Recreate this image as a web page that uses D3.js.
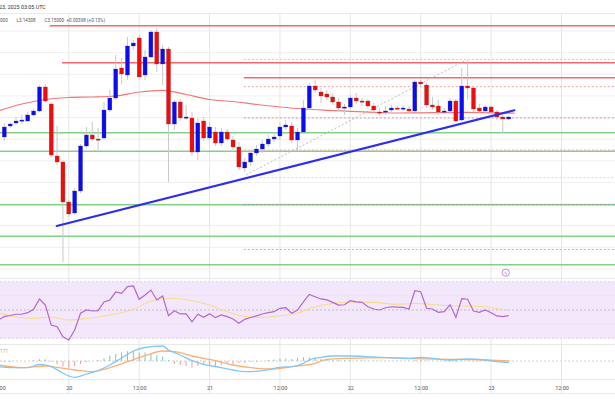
<!DOCTYPE html>
<html><head><meta charset="utf-8">
<script src="https://cdn.jsdelivr.net/npm/d3@7"></script>
<style>
body{margin:0;background:#fff;}
svg{display:block;font-family:Roboto,"DejaVu Sans",sans-serif;}
</style>
</head><body>
<svg id="chart" width="615" height="410"></svg>
<script>
// ---------- DATA ----------
const firstCandle = Date.UTC(2025, 1, 19, 13); // hourly candles
const opens = [3.1000,3.1275,3.1350,3.1413,3.1400,3.1550,3.1650,3.2250,3.1825,3.0525,
3.0375,2.9375,2.9100,2.9650,3.0775,3.1050,3.0950,3.0975,3.1675,3.1975,
3.2725,3.2550,3.3275,3.3475,3.2550,3.3000,3.3625,3.2825,3.3200,3.1325,
3.1875,3.1475,3.1475,3.0625,3.1400,3.0975,3.1125,3.0850,3.1125,3.0925,
3.0750,3.0225,3.0375,3.0600,3.0700,3.0825,3.0950,3.1025,3.1250,3.1275,
3.0925,3.1125,3.1725,3.2275,3.2125,3.2075,3.2000,3.1875,3.1725,3.1750,
3.1975,3.1900,3.1900,3.1775,3.1625,3.1625,3.1675,3.1725,3.1713,3.1700,
3.1650,3.2375,3.2300,3.1800,3.1775,3.1625,3.1650,3.1900,3.1425,3.2275,
3.2225,3.1725,3.1650,3.1750,3.1625,3.1500,3.1450];
const highs = [3.1350,3.1375,3.1500,3.1550,3.1625,3.1700,3.2300,3.2325,3.1875,3.1275,
3.0425,2.9425,2.9725,3.0825,3.1250,3.1375,3.1225,3.1875,3.2175,3.3050,
3.2975,3.3500,3.3425,3.3550,3.3175,3.3675,3.3725,3.3300,3.3250,3.1925,
3.1950,3.1800,3.1625,3.1475,3.1500,3.1375,3.1250,3.1225,3.1200,3.1025,
3.0875,3.0475,3.0675,3.0800,3.0925,3.1050,3.1125,3.1350,3.1425,3.1375,
3.1225,3.1925,3.2350,3.2425,3.2225,3.2175,3.2100,3.1975,3.1825,3.2050,
3.2100,3.1975,3.1950,3.1850,3.1725,3.1775,3.1800,3.1775,3.1800,3.1775,
3.2425,3.2425,3.2350,3.2000,3.1925,3.1725,3.1975,3.1950,3.2725,3.2925,
3.2275,3.1825,3.1800,3.1800,3.1675,3.1550,3.1525];
const lows = [3.0900,3.1225,3.1300,3.1325,3.1375,3.1525,3.1625,3.1875,3.0500,3.0300,
2.7875,2.9000,2.9050,2.9600,3.0725,3.0900,3.0675,3.0925,3.1625,3.1925,
3.2325,3.2425,3.3175,3.2450,3.2425,3.2975,3.2625,3.2300,2.9875,3.1175,
3.1400,3.1425,3.0525,3.0425,3.0900,3.0925,3.0775,3.0775,3.0900,3.0675,
3.0175,3.0125,3.0275,3.0525,3.0600,3.0750,3.0875,3.0925,3.1175,3.0850,
3.0650,3.1075,3.1675,3.2100,3.1850,3.1925,3.1800,3.1650,3.1550,3.1700,
3.1825,3.1775,3.1700,3.1600,3.1525,3.1550,3.1625,3.1675,3.1650,3.1575,
3.1625,3.2275,3.1725,3.1675,3.1550,3.1575,3.1575,3.1375,3.1400,3.1925,
3.1625,3.1600,3.1600,3.1575,3.1425,3.1100,3.1425];
const closes = [3.1250,3.1325,3.1400,3.1425,3.1550,3.1650,3.2250,3.1900,3.0550,3.0375,
2.9375,2.9075,2.9650,3.0775,3.1050,3.0950,3.0938,3.1675,3.1975,3.2700,
3.2575,3.3275,3.3350,3.2500,3.3000,3.3625,3.2825,3.3200,3.1325,3.1875,
3.1475,3.1500,3.0625,3.1350,3.0975,3.1250,3.0850,3.1125,3.0950,3.0750,
3.0250,3.0375,3.0600,3.0700,3.0825,3.0950,3.1000,3.1250,3.1300,3.0925,
3.1125,3.1725,3.2275,3.2175,3.2025,3.2000,3.1875,3.1725,3.1750,3.1975,
3.1900,3.1875,3.1775,3.1675,3.1600,3.1650,3.1725,3.1713,3.1725,3.1650,
3.2375,3.2325,3.1800,3.1750,3.1625,3.1650,3.1900,3.1400,3.2275,3.2225,
3.1700,3.1650,3.1750,3.1625,3.1500,3.1450,3.1500];

// moving average on price (sampled: hour offset from 19 Feb 12:00, value)
const maHours  = [0,4,8,12,16,20,24,28,32,36,40,44,48,52,56,60,64,68,72,76,80,84,88];
const maValues = [3.1650,3.1825,3.1938,3.1988,3.2000,3.2025,3.2125,3.2168,3.2063,3.1938,3.1888,3.1813,3.1750,3.1700,3.1668,3.1643,3.1618,3.1600,3.1605,3.1610,3.1615,3.1605,3.1595];

// horizontal levels
const gridLevels = [3.365,3.311,3.2568,3.2028,3.1488,3.0945,3.0405,2.9865,2.9325,2.8783,2.8243,2.7703];
const redLevels = [3.3783, 3.2858, 3.2483];
const redLevelStarts = ["2025-02-19T20:45Z","2025-02-19T22:50Z","2025-02-21T05:50Z"];
const greenLevels = [3.1108, 3.0643, 2.9308, 2.8518, 2.7808];
const dottedLevels = [3.2940, 3.2258, 3.1475, 3.0675, 2.9983, 2.9308, 2.8188];
const dottedLevelStarts = ["2025-02-21T05:50Z","2025-02-21T05:50Z","2025-02-21T05:50Z","2025-02-21T05:50Z","2025-02-21T08:30Z","2025-02-21T05:50Z","2025-02-21T05:50Z"];
const trendTimes = ["2025-02-19T21:56Z","2025-02-23T03:58Z"];
const trendPrices = [2.8775, 3.1668];
const diagTimes = ["2025-02-21T06:13Z","2025-02-22T19:43Z"];
const diagPrices = [3.0050, 3.2925];

// RSI per hour from 19 Feb 12:00
const rsi = [42.9,45.3,46.1,47.0,47.0,48.1,50.5,57.8,53.5,39.4,
38.2,31.1,28.8,35.9,47.7,50.0,49.3,49.5,55.7,57.1,
62.7,61.8,66.5,67.0,57.6,60.6,64.1,57.1,59.9,46.0,
49.5,47.2,47.2,41.7,47.0,44.8,47.4,44.6,46.5,45.3,
43.6,40.6,43.4,44.7,45.8,47.2,48.1,48.8,51.2,51.6,
47.7,50.0,55.7,61.0,59.4,57.8,57.1,55.4,53.5,53.7,
56.6,55.7,55.4,52.3,50.7,50.0,51.6,52.3,52.1,51.9,
50.7,63.6,62.9,51.2,50.7,48.4,48.8,53.7,44.8,58.0,
57.6,49.3,48.4,50.0,48.1,45.8,45.3,46.0];
const rsiMaHours  = [0,3,6,9,12,15,19,23,26,29,32,36,39,42,45,48,51,54,57,60,64,68,71,75,79,83,85,87];
const rsiMaValues = [47.9,45.1,44.1,45.1,42.9,44.0,46.5,50.5,56.4,58.3,57.4,53.5,48.8,45.4,44.8,45.9,47.9,52.1,54.7,55.7,55.4,54.0,54.7,53.5,52.8,52.3,51.1,50.0];

// MACD (hour offsets from 19 Feb 12:00)
const macdHours  = [0,2,5,7,9,11,12,13,15,17,19,21,23,25,28,29,31,33,35,37,40,42,45,48,50,52,53,55,57,60,63,66,70,72,74,77,80,83,85,87];
const macdValues = [-0.0057,-0.0067,-0.0067,-0.0033,-0.0057,-0.012,-0.015,-0.0163,-0.013,-0.0095,-0.004,0.003,0.010,0.0135,0.015,0.011,0.006,0.0003,-0.0033,-0.0055,-0.009,-0.0107,-0.0097,-0.0063,-0.0057,-0.0023,0.001,0.0037,0.005,0.005,0.0043,0.0033,0.0027,0.0037,0.0027,0.001,0.002,0.001,-0.0007,-0.0017];
const signalHours  = [0,4,8,10,13,16,18,22,25,28,30,33,37,40,43,47,50,54,56,60,66,71,77,83,87];
const signalValues = [-0.004,-0.0067,-0.005,-0.0063,-0.009,-0.0107,-0.0083,-0.0007,0.0053,0.010,0.0093,0.005,0.0003,-0.004,-0.0067,-0.008,-0.0057,-0.0023,0.0017,0.0027,0.0033,0.0023,0.0017,0.001,0.0];
const histogram = [0,-0.001,-0.001,0,0,0,0.001,0.0017,0.0017,-0.001,
-0.0033,-0.0057,-0.0067,-0.005,-0.003,-0.001,0,0.001,0.0027,0.0053,
0.007,0.0087,0.0097,0.010,0.0083,0.0085,0.0077,0.0057,0.0043,0.001,
-0.003,-0.004,-0.005,-0.0067,-0.005,-0.004,-0.005,-0.0063,-0.004,-0.003,
-0.003,-0.002,-0.002,-0.001,-0.001,0,0.001,0.0015,0.0023,0.0023,
0.002,0.0033,0.0037,0.0037,0.0037,0.002,0.0015,0.001,0.001,0.0008,
0.0008,0.0005,0.0005,0.0003,0.0003,0.0002,0.0002,0.0002,0.0002,0.0001,
0.0005,0.001,0.0008,0.0005,0.0002,-0.0003,-0.0005,-0.0005,-0.001,0.0005,
0.0005,-0.0003,-0.0003,-0.0003,-0.0005,-0.0008,-0.001,-0.0012];

const axisTicks = ["2025-02-19T12:00Z","2025-02-20T00:00Z","2025-02-20T12:00Z","2025-02-21T00:00Z","2025-02-21T12:00Z","2025-02-22T00:00Z","2025-02-22T12:00Z","2025-02-23T00:00Z","2025-02-23T12:00Z"];
const headerLine1 = "23, 2025 03:05 UTC";
const headerLine2 = ["000", "L3.14308", "C3.15000", "+0.00398 (+0.13%)"];

// ---------- CHART ----------
const H = 3600*1000;
const base = Date.UTC(2025,1,19,12);
const W = 615;
const svg = d3.select("#chart");
const x = d3.scaleUtc().domain([base, base + 102*H]).range([-1.57, -1.57 + 102*5.865]);
const y = d3.scaleLinear().domain([2.7425, 3.4425]).range([280, 0]);
const yR = d3.scaleLinear().domain([30, 70]).range([338.3, 281.7]);
const yM = d3.scaleLinear().domain([-0.018, 0.017]).range([379, 344]);
const hourT = h => new Date(base + h*H);
const candleT = i => new Date(firstCandle + i*H);

const PANE_TOP = 13, MAIN_BOTTOM = 277, RSI_TOP = 278, MACD_TOP = 344, MACD_BOTTOM = 379, AXIS_BOTTOM = 393;

svg.append("defs").append("clipPath").attr("id","mainclip")
  .append("rect").attr("x",0).attr("y",PANE_TOP).attr("width",W).attr("height",MAIN_BOTTOM-PANE_TOP);

const g = svg.append("g");
g.selectAll("line.hg").data(gridLevels).join("line")
  .attr("x1",0).attr("x2",W).attr("y1",d=>y(d)).attr("y2",d=>y(d))
  .attr("stroke","#efefef").attr("stroke-width",1);

[PANE_TOP, RSI_TOP, MACD_TOP, MACD_BOTTOM, AXIS_BOTTOM].forEach(v=>{
  g.append("line").attr("x1",0).attr("x2",W).attr("y1",v+0.5).attr("y2",v+0.5)
   .attr("stroke","#e9e9e9").attr("stroke-width",1);
});

const ticks = axisTicks.map(d=>new Date(d));
g.selectAll("line.vg").data(ticks).join("line")
  .attr("x1",d=>x(d)).attr("x2",d=>x(d)).attr("y1",PANE_TOP).attr("y2",AXIS_BOTTOM)
  .attr("stroke","#e6e6e6").attr("stroke-width",1);

g.append("rect").attr("x",0).attr("width",W).attr("y",yR(70)).attr("height",yR(30)-yR(70))
  .attr("fill","#f3e8fb");
[60,40].forEach(v=>g.append("line").attr("x1",0).attr("x2",W).attr("y1",yR(v)).attr("y2",yR(v)).attr("stroke","#ebe2f0"));
[70,30].forEach(v=>g.append("line").attr("x1",0).attr("x2",W).attr("y1",yR(v)).attr("y2",yR(v))
  .attr("stroke","#d9d0de").attr("stroke-dasharray","2,2"));
g.append("line").attr("x1",0).attr("x2",W).attr("y1",yR(50)).attr("y2",yR(50))
  .attr("stroke","#c4bcc8").attr("stroke-dasharray","2,2");

const m = svg.append("g").attr("clip-path","url(#mainclip)");
m.selectAll("line.green").data(greenLevels).join("line")
  .attr("x1",0).attr("x2",W).attr("y1",d=>y(d)).attr("y2",d=>y(d))
  .attr("stroke","#86cf86").attr("stroke-width",1.4);
m.selectAll("line.red").data(redLevels).join("line")
  .attr("x1",(d,i)=>x(new Date(redLevelStarts[i]))).attr("x2",W).attr("y1",d=>y(d)).attr("y2",d=>y(d))
  .attr("stroke","#f46a6a").attr("stroke-width",1.4);
const dotColors = ["#c8c8c8","#f2a0a0","#c89aa8","#f0aaa0","#b9dcf0","#9a9a9a","#b8b0f0"];
m.selectAll("line.dot").data(dottedLevels).join("line")
  .attr("x1",(d,i)=>x(new Date(dottedLevelStarts[i]))).attr("x2",W).attr("y1",d=>y(d)).attr("y2",d=>y(d))
  .attr("stroke",(d,i)=>dotColors[i]).attr("stroke-width",1).attr("stroke-dasharray","2,2");

m.append("line")
  .attr("x1",x(new Date(diagTimes[0]))).attr("y1",y(diagPrices[0]))
  .attr("x2",x(new Date(diagTimes[1]))).attr("y2",y(diagPrices[1]))
  .attr("stroke","#bdbdbd").attr("stroke-width",1).attr("stroke-dasharray","2,2");

m.append("path").datum(maHours.map((h,i)=>[hourT(h),maValues[i]]))
  .attr("d",d3.line().x(d=>x(d[0])).y(d=>y(d[1])).curve(d3.curveMonotoneX))
  .attr("fill","none").attr("stroke","#f37777").attr("stroke-width",1.2);

const candles = opens.map((o,i)=>({t:candleT(i),o,h:highs[i],l:lows[i],c:closes[i]}));
const bw = 4;
m.selectAll("line.wick").data(candles).join("line")
  .attr("x1",d=>x(d.t)).attr("x2",d=>x(d.t)).attr("y1",d=>y(d.h)).attr("y2",d=>y(d.l))
  .attr("stroke","#c9c9c9").attr("stroke-width",1);
m.selectAll("rect.body").data(candles).join("rect")
  .attr("x",d=>x(d.t)-bw/2).attr("width",bw)
  .attr("y",d=>y(Math.max(d.o,d.c)))
  .attr("height",d=>Math.max(1.2, Math.abs(y(d.o)-y(d.c))))
  .attr("fill",d=>d.c>=d.o?"#0c0cf0":"#f00c0c")
  .attr("stroke",d=>d.c>=d.o?"#3a3a9a":"#9a3a3a").attr("stroke-width",0.3);

m.append("line")
  .attr("x1",x(new Date(trendTimes[0]))).attr("y1",y(trendPrices[0]))
  .attr("x2",x(new Date(trendTimes[1]))).attr("y2",y(trendPrices[1]))
  .attr("stroke","#2d2df0").attr("stroke-width",2).attr("stroke-linecap","round");

svg.append("path").datum(rsiMaHours.map((h,i)=>[hourT(h),rsiMaValues[i]]))
  .attr("d",d3.line().x(d=>x(d[0])).y(d=>yR(d[1])).curve(d3.curveMonotoneX))
  .attr("fill","none").attr("stroke","#f7dc8c").attr("stroke-width",1.1);
svg.append("path").datum(rsi.map((v,i)=>[hourT(i),v]))
  .attr("d",d3.line().x(d=>x(d[0])).y(d=>yR(d[1])))
  .attr("fill","none").attr("stroke","#b566cf").attr("stroke-width",1.2);

const icon = svg.append("g").attr("transform",`translate(${x(hourT(86.5))},${yR(70)-9})`);
icon.append("circle").attr("r",3.6).attr("fill","#fff").attr("stroke","#b070d0").attr("stroke-width",0.8);
icon.append("text").attr("text-anchor","middle").attr("y",2).attr("font-size",5).attr("fill","#b070d0").text("ϟ");

svg.append("line").attr("x1",0).attr("x2",W).attr("y1",yM(0)).attr("y2",yM(0))
  .attr("stroke","#cfcfcf").attr("stroke-dasharray","2,2");
svg.selectAll("line.hist").data(histogram).join("line")
  .attr("x1",(d,i)=>x(hourT(i))).attr("x2",(d,i)=>x(hourT(i)))
  .attr("y1",yM(0)).attr("y2",d=>yM(d))
  .attr("stroke",d=>d>=0?"#7cc7b8":"#f39b9b").attr("stroke-width",1);
svg.append("path").datum(signalHours.map((h,i)=>[hourT(h),signalValues[i]]))
  .attr("d",d3.line().x(d=>x(d[0])).y(d=>yM(d[1])).curve(d3.curveMonotoneX))
  .attr("fill","none").attr("stroke","#ffae74").attr("stroke-width",1.3);
svg.append("path").datum(macdHours.map((h,i)=>[hourT(h),macdValues[i]]))
  .attr("d",d3.line().x(d=>x(d[0])).y(d=>yM(d[1])).curve(d3.curveMonotoneX))
  .attr("fill","none").attr("stroke","#82c8f7").attr("stroke-width",1.3);
svg.append("text").attr("x",0).attr("y",352.5).attr("font-size",5).attr("fill","#ff9a5a").text("171");

const ax = svg.append("g").attr("transform",`translate(0,${MACD_BOTTOM})`)
  .call(d3.axisBottom(x).tickValues(ticks).tickSize(0).tickPadding(7)
    .tickFormat(d=>d.getUTCHours()===0 ? String(d.getUTCDate()) : "12:00"));
ax.select(".domain").remove();
ax.selectAll("text").attr("font-size",5.5).attr("fill","#555").attr("font-family","Roboto, DejaVu Sans, sans-serif");

svg.append("text").attr("x",-1).attr("y",9).attr("font-size",5.4).attr("fill","#333").text(headerLine1);
const hx = [0, 16.5, 44.5, 66.5];
headerLine2.forEach((t,i)=>svg.append("text").attr("x",hx[i]).attr("y",22).attr("font-size",4.6).attr("fill","#555").text(t));
</script>
</body></html>
